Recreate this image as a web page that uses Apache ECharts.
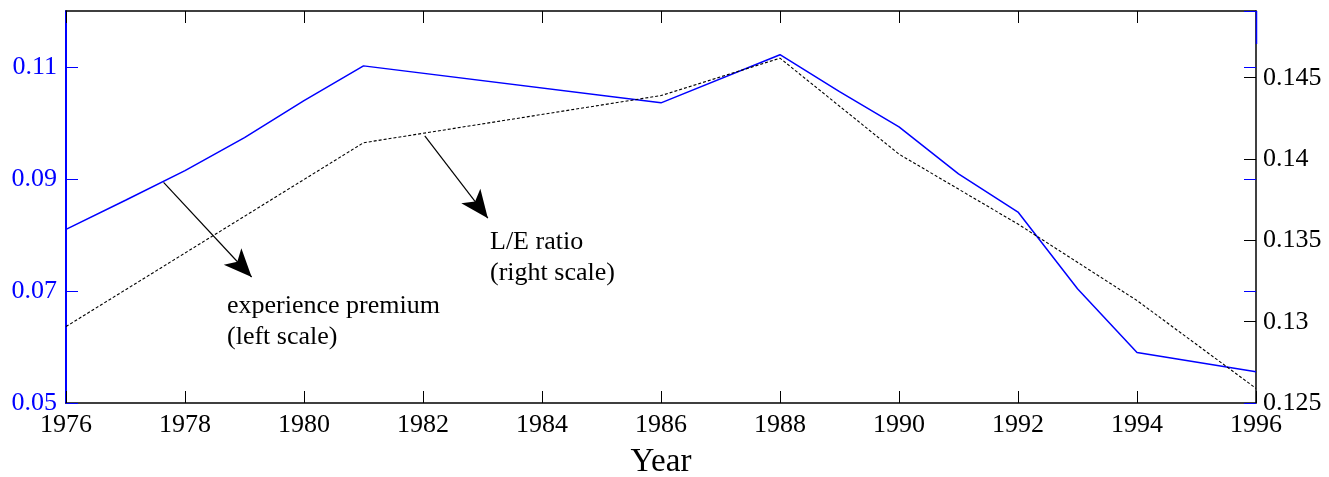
<!DOCTYPE html>
<html>
<head>
    <meta charset="utf-8">
    <title>Experience premium and L/E ratio</title>
    <script src="https://cdn.jsdelivr.net/npm/echarts@6.0.0/dist/echarts.min.js"></script>
    <style>
        html, body { margin: 0; padding: 0; background: #fff; }
        #chart1 { width: 1329px; height: 477px; }
    </style>
</head>
<body>
<div id="chart1"></div>
<script>
    // experience premium (left scale)
    var premiumYears = [1976, 1977, 1978, 1979, 1980, 1981, 1986, 1988, 1989, 1990, 1991, 1992, 1993, 1994, 1996];
    var premiumValues = [0.0810, 0.0862, 0.0915, 0.0974, 0.1040, 0.1102, 0.1036, 0.1122, 0.1056, 0.0993, 0.0909, 0.0841, 0.0704, 0.0590, 0.0556];

    // L/E ratio (right scale)
    var ratioYears = [1976, 1981, 1986, 1988, 1990, 1992, 1994, 1996];
    var ratioValues = [0.1297, 0.1410, 0.1439, 0.1462, 0.1403, 0.1360, 0.1313, 0.1259];

    // arrows in data coordinates (year, left-scale value)
    var arrowPremium = [[1977.64, 0.0894], [1979.12, 0.0725]];
    var arrowRatio = [[1982.03, 0.0977], [1983.09, 0.0830]];

    var font = 'Liberation Serif';
    var blue = '#0000ff';

    function pairs(xs, ys) {
        var out = [];
        for (var i = 0; i < xs.length; i++) out.push([xs[i], ys[i]]);
        return out;
    }

    var gridBox = { left: 66, right: 73, top: 11, bottom: 74, containLabel: false, outerBoundsMode: 'none' };

    var myChart1 = echarts.init(document.getElementById('chart1'));

    myChart1.setOption({
        animation: false,
        backgroundColor: '#fff',
        grid: [gridBox, gridBox],
        xAxis: [{
            type: 'value', min: 1976, max: 1996, interval: 2, gridIndex: 0,
            name: 'Year', nameLocation: 'middle', nameGap: 43,
            nameTextStyle: { fontFamily: font, fontSize: 33, color: '#000' },
            axisLine: { lineStyle: { color: '#000', width: 1.5 } },
            axisTick: { inside: true, length: 12, lineStyle: { color: '#000', width: 1 } },
            axisLabel: {
                fontFamily: font, fontSize: 26, color: '#000', margin: 9,
                formatter: function (v) { return String(v); }
            },
            splitLine: { show: false }
        }, {
            type: 'value', min: 1976, max: 1996, interval: 2, position: 'top', gridIndex: 0,
            axisLine: { lineStyle: { color: '#000', width: 1.5 } },
            axisTick: { inside: true, length: 12, lineStyle: { color: '#000', width: 1 } },
            axisLabel: { show: false },
            splitLine: { show: false }
        }, {
            type: 'value', min: 1976, max: 1996, gridIndex: 1, show: false
        }],
        yAxis: [{
            type: 'value', min: 0.05, max: 0.12, interval: 0.02, position: 'left', gridIndex: 0,
            axisLine: { show: true, lineStyle: { color: blue, width: 2 } },
            axisTick: { show: true, inside: true, length: 12, lineStyle: { color: blue, width: 1 } },
            axisLabel: {
                fontFamily: font, fontSize: 26, color: blue, margin: 9, showMaxLabel: false,
                formatter: function (v) { return v.toFixed(2); }
            },
            splitLine: { show: false }
        }, {
            type: 'value', min: 0.125, max: 0.1491, interval: 0.005, position: 'right', gridIndex: 0,
            axisLine: { show: true, lineStyle: { color: '#000', width: 1.5 } },
            axisTick: { show: true, inside: true, length: 12, lineStyle: { color: '#000', width: 1 } },
            axisLabel: {
                fontFamily: font, fontSize: 26, color: '#000', margin: 7, showMaxLabel: false,
                formatter: function (v) { return String(parseFloat(v.toFixed(3))); }
            },
            splitLine: { show: false }
        }, {
            // left scale ticks repeated on the right border
            type: 'value', min: 0.05, max: 0.12, interval: 0.02, position: 'right', gridIndex: 1,
            axisLine: { show: false },
            axisTick: { show: true, inside: true, length: 12, lineStyle: { color: blue, width: 1 } },
            axisLabel: { show: false },
            splitLine: { show: false }
        }],
        graphic: [{
            type: 'line', z: 100,
            shape: { x1: 1256.5, y1: 11, x2: 1256.5, y2: 44 },
            style: { stroke: blue, lineWidth: 1.5 }
        }, {
            type: 'text', left: 227, top: 291, z: 100,
            style: {
                text: 'experience premium\n(left scale)',
                font: '26px "Liberation Serif"', fill: '#000', lineHeight: 31
            }
        }, {
            type: 'text', left: 490, top: 227, z: 100,
            style: {
                text: 'L/E ratio\n(right scale)',
                font: '26px "Liberation Serif"', fill: '#000', lineHeight: 31
            }
        }],
        series: [{
            name: 'experience premium',
            type: 'line',
            xAxisIndex: 0, yAxisIndex: 0,
            data: pairs(premiumYears, premiumValues),
            showSymbol: false,
            lineStyle: { color: blue, width: 1.5 },
            markLine: {
                silent: true,
                symbol: ['none', 'arrow'],
                symbolSize: [18, 28],
                label: { show: false },
                lineStyle: { color: '#000', width: 1.2, type: 'solid' },
                data: [
                    [{ coord: arrowPremium[0] }, { coord: arrowPremium[1] }],
                    [{ coord: arrowRatio[0] }, { coord: arrowRatio[1] }]
                ]
            }
        }, {
            name: 'L/E ratio',
            type: 'line',
            xAxisIndex: 0, yAxisIndex: 1,
            data: pairs(ratioYears, ratioValues),
            showSymbol: false,
            lineStyle: { color: '#000', width: 1.1, type: [3, 2] }
        }]
    });
</script>
</body>
</html>
